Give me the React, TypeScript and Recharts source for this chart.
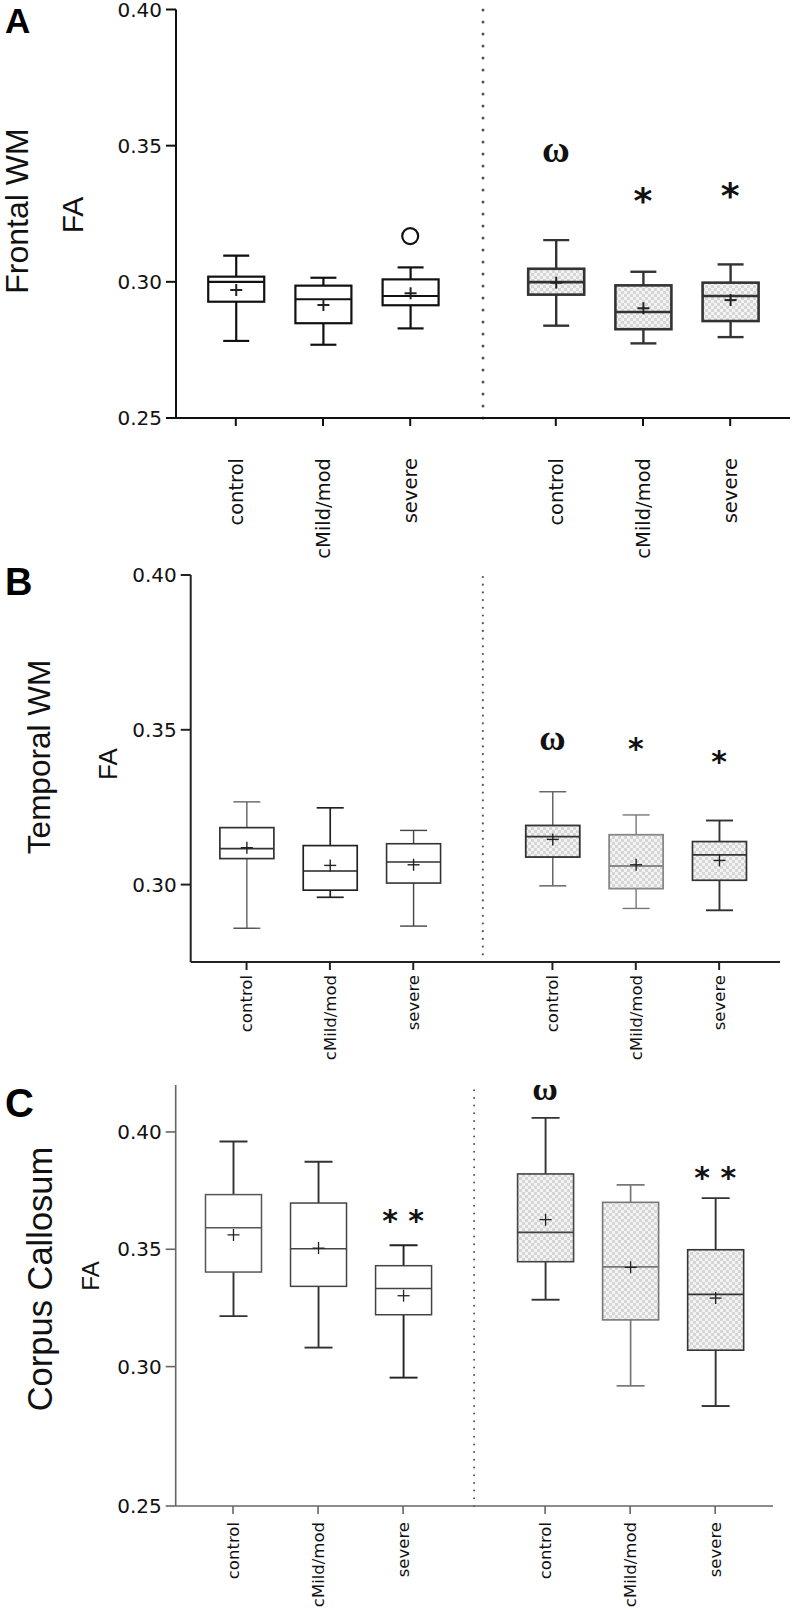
import React from "react";
import { Bar, ComposedChart, ReferenceLine, Scatter, XAxis, YAxis } from "recharts";

// six groups per panel: left half plain boxes, right half hatched boxes
const GROUPS = ["control", "cMild/mod", "severe", "control", "cMild/mod", "severe"];
const SLOTS = [0, 1, 2, 3.67, 4.67, 5.67];
const DIVIDER = 2.835;

// A – Frontal WM FA
const aLow = [0.2783, 0.2769, 0.2829, 0.2839, 0.2774, 0.2797];
const aQ1 = [0.2927, 0.2848, 0.2914, 0.2953, 0.2826, 0.2856];
const aMedian = [0.3, 0.2936, 0.2948, 0.2999, 0.2889, 0.2948];
const aQ3 = [0.3019, 0.2986, 0.3009, 0.3048, 0.2987, 0.2997];
const aHigh = [0.3096, 0.3015, 0.3053, 0.3153, 0.3037, 0.3064];
const aMean = [0.297, 0.2915, 0.2958, 0.2997, 0.2903, 0.2933];

// B – Temporal WM FA
const bLow = [0.2859, 0.2959, 0.2866, 0.2996, 0.2923, 0.2917];
const bQ1 = [0.3084, 0.2982, 0.3005, 0.3089, 0.2987, 0.3014];
const bMedian = [0.3116, 0.3044, 0.3073, 0.3155, 0.306, 0.3096];
const bQ3 = [0.3184, 0.3126, 0.3132, 0.3191, 0.3161, 0.3139];
const bHigh = [0.3267, 0.3248, 0.3175, 0.33, 0.3225, 0.3207];
const bMean = [0.3119, 0.3062, 0.3064, 0.3146, 0.3064, 0.3078];

// C – Corpus Callosum FA
const cLow = [0.3215, 0.3081, 0.2953, 0.3285, 0.2918, 0.2832];
const cQ1 = [0.3403, 0.3342, 0.3221, 0.3447, 0.3199, 0.307];
const cMedian = [0.3592, 0.3502, 0.3333, 0.3572, 0.3425, 0.3308];
const cQ3 = [0.3733, 0.3697, 0.343, 0.3821, 0.37, 0.3498];
const cHigh = [0.3959, 0.3873, 0.3517, 0.406, 0.3774, 0.3718];
const cMean = [0.3561, 0.3505, 0.3302, 0.3626, 0.3423, 0.3292];

// significance marks: group index, value, symbol
const aMarkGroup = [2, 3, 4, 5];
const aMarkValue = [0.3168, 0.3469, 0.3326, 0.3344];
const aMarkSymbol = ["o", "ω", "*", "*"];
const bMarkGroup = [3, 4, 5];
const bMarkValue = [0.346, 0.346, 0.3417];
const bMarkSymbol = ["ω", "*", "*"];
const cMarkGroup = [2, 3, 5];
const cMarkValue = [0.365, 0.417, 0.383];
const cMarkSymbol = ["* *", "ω", "* *"];

const aTicks = [0.25, 0.3, 0.35, 0.4];
const bTicks = [0.3, 0.35, 0.4];
// panel C's axis has a stretched bottom segment: its floor carries the 0.25 label
const cFloor = 0.2406;
const cTicks = [cFloor, 0.3, 0.35, 0.4];
const cTickLabels = ["0.25", "0.30", "0.35", "0.40"];

type Row = { pos: number; idx: number; lo: number; q1: number; med: number; q3: number; hi: number; mean: number; right: boolean };
type Mark = { pos: number; v: number; sym: string };

function buildRows(lo: number[], q1: number[], med: number[], q3: number[], hi: number[], mean: number[]): Row[] {
  return GROUPS.map((_, i) => ({ pos: SLOTS[i], idx: i, lo: lo[i], q1: q1[i], med: med[i], q3: q3[i], hi: hi[i], mean: mean[i], right: i >= 3 }));
}

function buildMarks(group: number[], value: number[], sym: string[]): Mark[] {
  return group.map((g, i) => ({ pos: SLOTS[g], v: value[i], sym: sym[i] }));
}

type Look = {
  boxW: number;
  capW: number;
  plus: number;
  plusW: number;
  boxStroke: string[];
  boxWidth: number[];
  whiskerStroke: string[];
  whiskerWidth: number[];
  axisColor: string;
  axisWidth: number;
  dotGap: number;
  dotSize: number;
  omegaSize: number;
  starSize: number;
  labelSize: number;
  labelGap: number;
};

type Panel = {
  id: string;
  top: number;
  height: number;
  margin: { top: number; right: number; left: number; bottom: number };
  yWidth: number;
  xHeight: number;
  yDomain: [number, number];
  xDomain: [number, number];
  yTicks: number[];
  yLabel: (v: number) => string;
  rows: Row[];
  marks: Mark[];
  look: Look;
};

const fmt = (v: number) => v.toFixed(2);

const PANELS: Panel[] = [
  {
    id: "A",
    top: 0,
    height: 580,
    margin: { top: 9.5, right: 2, left: 0, bottom: 0 },
    yWidth: 176,
    xHeight: 162,
    yDomain: [0.25, 0.4],
    xDomain: [-0.686, 6.356],
    yTicks: aTicks,
    yLabel: fmt,
    rows: buildRows(aLow, aQ1, aMedian, aQ3, aHigh, aMean),
    marks: buildMarks(aMarkGroup, aMarkValue, aMarkSymbol),
    look: {
      boxW: 56, capW: 26, plus: 6, plusW: 2,
      boxStroke: ["#111", "#111", "#111", "#333", "#333", "#333"],
      boxWidth: [2.2, 2.2, 2.2, 2.6, 2.6, 2.6],
      whiskerStroke: ["#111", "#111", "#111", "#333", "#333", "#333"],
      whiskerWidth: [2.2, 2.2, 2.2, 2.4, 2.4, 2.4],
      axisColor: "#111", axisWidth: 2, dotGap: 12, dotSize: 3,
      omegaSize: 38, starSize: 36, labelSize: 19.5, labelGap: 40,
    },
  },
  {
    id: "B",
    top: 560,
    height: 520,
    margin: { top: 15, right: 12, left: 0, bottom: 0 },
    yWidth: 190.7,
    xHeight: 118,
    yDomain: [0.275, 0.4],
    xDomain: [-0.67, 6.4],
    yTicks: bTicks,
    yLabel: fmt,
    rows: buildRows(bLow, bQ1, bMedian, bQ3, bHigh, bMean),
    marks: buildMarks(bMarkGroup, bMarkValue, bMarkSymbol),
    look: {
      boxW: 54, capW: 27, plus: 6, plusW: 1.4,
      boxStroke: ["#333", "#222", "#333", "#333", "#888", "#333"],
      boxWidth: [1.7, 1.7, 1.6, 1.8, 1.8, 1.7],
      whiskerStroke: ["#555", "#222", "#444", "#666", "#777", "#333"],
      whiskerWidth: [1.3, 1.7, 1.4, 1.5, 1.4, 1.9],
      axisColor: "#222", axisWidth: 2, dotGap: 7.7, dotSize: 2.2,
      omegaSize: 36, starSize: 30, labelSize: 16.5, labelGap: 13,
    },
  },
  {
    id: "C",
    top: 1060,
    height: 550,
    margin: { top: 25, right: 19, left: 0, bottom: 0 },
    yWidth: 175.7,
    xHeight: 104,
    yDomain: [cFloor, 0.42],
    xDomain: [-0.674, 6.35],
    yTicks: cTicks,
    yLabel: (v: number) => cTickLabels[cTicks.indexOf(v)] ?? fmt(v),
    rows: buildRows(cLow, cQ1, cMedian, cQ3, cHigh, cMean),
    marks: buildMarks(cMarkGroup, cMarkValue, cMarkSymbol),
    look: {
      boxW: 56, capW: 28, plus: 6, plusW: 1.3,
      boxStroke: ["#555", "#444", "#444", "#444", "#777", "#333"],
      boxWidth: [1.5, 1.5, 1.5, 1.6, 1.6, 1.6],
      whiskerStroke: ["#333", "#333", "#222", "#333", "#777", "#333"],
      whiskerWidth: [1.9, 1.9, 1.9, 1.9, 1.7, 1.9],
      axisColor: "#666", axisWidth: 1.6, dotGap: 7.7, dotSize: 2,
      omegaSize: 35, starSize: 30, labelSize: 16.5, labelGap: 16,
    },
  },
];

function boxShape(look: Look, fillId: string) {
  return (props: any) => {
    const { x, y, width, height, payload } = props;
    const d = payload as Row;
    const top = Math.min(y, y + height);
    const h = Math.abs(height);
    const cx = x + width / 2;
    const py = (v: number) => top + (h * (d.hi - v)) / (d.hi - d.lo);
    const bs = look.boxStroke[d.idx];
    const ws = look.whiskerStroke[d.idx];
    const ww = look.whiskerWidth[d.idx];
    const half = look.boxW / 2;
    const cap = look.capW / 2;
    const my = py(d.mean);
    return (
      <g>
        <line x1={cx} x2={cx} y1={py(d.hi)} y2={py(d.q3)} stroke={ws} strokeWidth={ww} />
        <line x1={cx} x2={cx} y1={py(d.q1)} y2={py(d.lo)} stroke={ws} strokeWidth={ww} />
        <line x1={cx - cap} x2={cx + cap} y1={py(d.hi)} y2={py(d.hi)} stroke={ws} strokeWidth={ww} />
        <line x1={cx - cap} x2={cx + cap} y1={py(d.lo)} y2={py(d.lo)} stroke={ws} strokeWidth={ww} />
        <rect
          x={cx - half}
          y={py(d.q3)}
          width={look.boxW}
          height={py(d.q1) - py(d.q3)}
          fill={d.right ? `url(#${fillId})` : "#fff"}
          stroke={bs}
          strokeWidth={look.boxWidth[d.idx]}
        />
        <line x1={cx - half} x2={cx + half} y1={py(d.med)} y2={py(d.med)} stroke={bs} strokeWidth={look.boxWidth[d.idx]} />
        <line x1={cx - look.plus} x2={cx + look.plus} y1={my} y2={my} stroke="#222" strokeWidth={look.plusW} />
        <line x1={cx} x2={cx} y1={my - look.plus} y2={my + look.plus} stroke="#222" strokeWidth={look.plusW} />
      </g>
    );
  };
}

function markShape(look: Look) {
  return (props: any) => {
    const { cx, cy, payload } = props;
    const m = payload as Mark;
    if (m.sym === "o") {
      return <circle cx={cx} cy={cy} r={8} fill="none" stroke="#111" strokeWidth={2.2} />;
    }
    if (m.sym === "ω") {
      return (
        <text x={cx} y={cy + look.omegaSize * 0.22} textAnchor="middle" fontFamily="Liberation Serif" fontWeight={700} fontSize={look.omegaSize} fill="#111">
          ω
        </text>
      );
    }
    return (
      <text x={cx} y={cy + look.starSize * 0.55} textAnchor="middle" fontFamily="DejaVu Sans" fontWeight={700} fontSize={look.starSize} fill="#111">
        {m.sym}
      </text>
    );
  };
}

function GroupTick(props: any) {
  const { x, y, payload, look } = props;
  const i = SLOTS.indexOf(payload.value);
  // recharts puts y at axis + tickSize + tickMargin (8 + 2)
  const ty = y - 10 + look.labelGap;
  return (
    <text
      x={x}
      y={ty}
      dy="0.36em"
      transform={`rotate(-90, ${x}, ${ty})`}
      textAnchor="end"
      fontFamily="DejaVu Sans"
      fontSize={look.labelSize}
      fill="#111"
    >
      {GROUPS[i] ?? ""}
    </text>
  );
}

function PanelChart({ p }: { p: Panel }) {
  const fillId = `chk${p.id}`;
  const look = p.look;
  return (
    <div style={{ position: "absolute", left: 0, top: p.top }}>
      <ComposedChart width={792} height={p.height} data={p.rows} margin={p.margin}>
        <defs>
          <pattern id={fillId} width={6} height={6} patternUnits="userSpaceOnUse">
            <rect width={6} height={6} fill="#f3f3f3" />
            <rect width={3} height={3} fill="#d6d6d6" />
            <rect x={3} y={3} width={3} height={3} fill="#d6d6d6" />
          </pattern>
        </defs>
        <XAxis
          type="number"
          dataKey="pos"
          domain={p.xDomain}
          ticks={SLOTS}
          interval={0}
          allowDataOverflow
          height={p.xHeight}
          tickSize={8}
          axisLine={{ stroke: look.axisColor, strokeWidth: look.axisWidth }}
          tickLine={{ stroke: look.axisColor, strokeWidth: look.axisWidth }}
          tick={<GroupTick look={look} />}
        />
        <YAxis
          type="number"
          domain={p.yDomain}
          ticks={p.yTicks}
          interval={0}
          allowDataOverflow
          width={p.yWidth}
          tickSize={10}
          tickMargin={4}
          tickFormatter={p.yLabel}
          axisLine={{ stroke: look.axisColor, strokeWidth: look.axisWidth }}
          tickLine={{ stroke: look.axisColor, strokeWidth: look.axisWidth }}
          tick={{ fontSize: 20, fill: "#111", fontFamily: "DejaVu Sans" }}
        />
        <ReferenceLine
          x={DIVIDER}
          stroke="#555"
          strokeWidth={look.dotSize}
          strokeDasharray={`0 ${look.dotGap}`}
          strokeLinecap="round"
        />
        <Bar dataKey={(d: Row) => [d.lo, d.hi]} barSize={look.boxW} isAnimationActive={false} shape={boxShape(look, fillId)} />
        <Scatter data={p.marks} dataKey="v" isAnimationActive={false} shape={markShape(look)} />
      </ComposedChart>
    </div>
  );
}

const titleStyle: React.CSSProperties = {
  position: "absolute",
  transform: "translate(-50%, -50%) rotate(-90deg)",
  whiteSpace: "nowrap",
  lineHeight: 1,
  fontFamily: "Liberation Sans",
  color: "#111",
};

const letterStyle: React.CSSProperties = {
  position: "absolute",
  fontFamily: "Liberation Sans",
  fontWeight: 700,
  lineHeight: 1,
  color: "#000",
};

export default function App() {
  return (
    <div style={{ position: "absolute", left: 0, top: 0, width: 792, height: 1610, background: "#fff", overflow: "hidden" }}>
      {PANELS.map((p) => (
        <PanelChart key={p.id} p={p} />
      ))}
      <div style={{ ...letterStyle, left: 5, top: 3, fontSize: 35 }}>A</div>
      <div style={{ ...letterStyle, left: 5, top: 563, fontSize: 38 }}>B</div>
      <div style={{ ...letterStyle, left: 5, top: 1083, fontSize: 40 }}>C</div>

      <div style={{ ...titleStyle, left: 17, top: 211, fontSize: 32 }}>Frontal WM</div>
      <div style={{ ...titleStyle, left: 73, top: 215, fontSize: 30 }}>FA</div>
      <div style={{ ...titleStyle, left: 40, top: 757, fontSize: 31.5 }}>Temporal WM</div>
      <div style={{ ...titleStyle, left: 108, top: 764, fontSize: 26 }}>FA</div>
      <div style={{ ...titleStyle, left: 40, top: 1279, fontSize: 34.5 }}>Corpus Callosum</div>
      <div style={{ ...titleStyle, left: 91, top: 1276, fontSize: 24 }}>FA</div>
    </div>
  );
}
